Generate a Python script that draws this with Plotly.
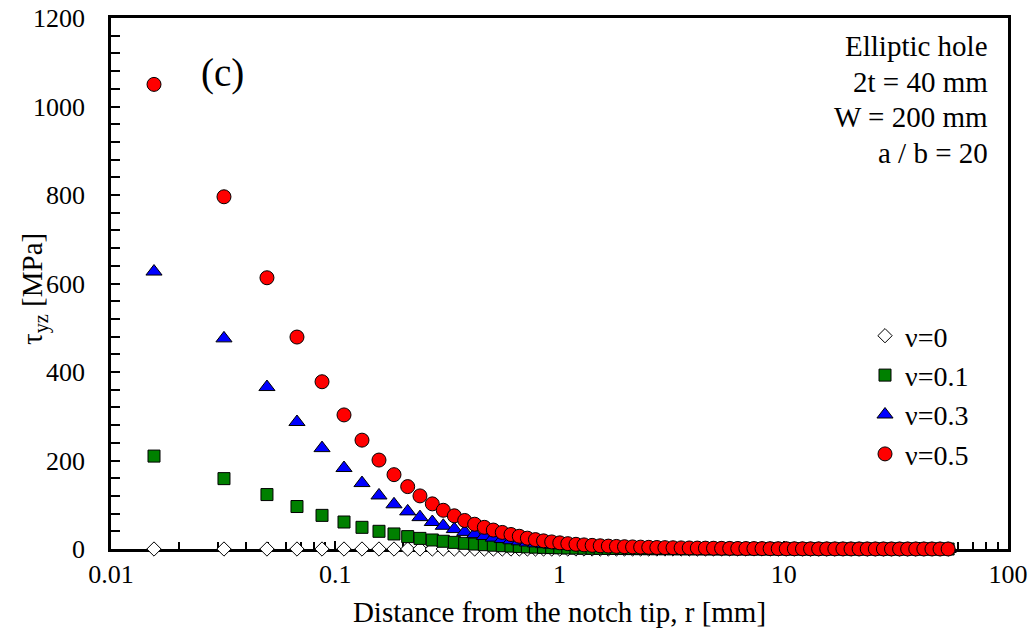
import plotly.graph_objects as go

# Distance from the notch tip r [mm]
r_mm = [0.01555, 0.0319, 0.0496, 0.0675, 0.0873, 0.1094, 0.1316, 0.1567, 0.1828, 0.2104,
        0.2387, 0.2709, 0.3032, 0.3396, 0.3778, 0.4185, 0.4621, 0.5068, 0.5557, 0.6076,
        0.6617, 0.719, 0.781, 0.849, 0.923, 1.003, 1.089, 1.184, 1.286, 1.398,
        1.519, 1.651, 1.794, 1.949, 2.118, 2.301, 2.500, 2.717, 2.952, 3.208,
        3.486, 3.788, 4.117, 4.473, 4.861, 5.282, 5.740, 6.237, 6.777, 7.362,
        8.000, 8.694, 9.447, 10.26, 11.15, 12.12, 13.17, 14.31, 15.55, 16.90,
        18.36, 19.95, 21.68, 23.56, 25.60, 27.82, 30.23, 32.85, 35.69, 38.78,
        42.14, 45.80, 49.77, 54.07]

# tau_yz [MPa] for each Poisson ratio
tau_nu05 = [1050, 796, 613, 479, 378, 303, 246, 201, 168, 141,
            120, 102, 87.5, 75, 64.5, 56, 49, 42.8, 37.5, 32.8,
            28.8, 24.5, 21.2, 18.4, 16.0, 13.9, 12.1, 10.6, 9.3, 8.2,
            7.3, 6.5, 5.8, 5.2, 4.7, 4.2, 3.8, 3.4, 3.1, 2.8,
            2.5, 2.3, 2.1, 1.9, 1.7, 1.5, 1.35, 1.2, 1.05, 0.95,
            0.85, 0.75, 0.65, 0.57, 0.5, 0.44, 0.38, 0.33, 0.29, 0.25,
            0.22, 0.19, 0.17, 0.15, 0.13, 0.12, 0.11, 0.10, 0.09, 0.08,
            0.07, 0.06, 0.05, 0.05]

tau_nu03 = [627, 476, 366, 287, 228, 183, 149, 121, 101, 85,
            72, 61, 52.5, 45, 38.7, 33.6, 29.4, 25.7, 22.5, 19.7,
            17.3, 14.7, 12.7, 11.0, 9.6, 8.3, 7.3, 6.4, 5.6, 4.9,
            4.4, 3.9, 3.5, 3.1, 2.8, 2.5, 2.3, 2.0, 1.9, 1.7,
            1.5, 1.4, 1.3, 1.1, 1.0, 0.9, 0.81, 0.72, 0.63, 0.57,
            0.51, 0.45, 0.39, 0.34, 0.3, 0.26, 0.23, 0.2, 0.17, 0.15,
            0.13, 0.11, 0.1, 0.09, 0.08, 0.07, 0.07, 0.06, 0.05, 0.05,
            0.04, 0.04, 0.03, 0.03]

tau_nu01 = [210, 159, 123, 96, 76, 61, 49, 40, 34, 28,
            24, 20.4, 17.5, 15, 12.9, 11.2, 9.8, 8.6, 7.5, 6.6,
            5.8, 4.9, 4.2, 3.7, 3.2, 2.8, 2.4, 2.1, 1.9, 1.6,
            1.5, 1.3, 1.2, 1.0, 0.94, 0.84, 0.76, 0.68, 0.62, 0.56,
            0.5, 0.46, 0.42, 0.38, 0.34, 0.3, 0.27, 0.24, 0.21, 0.19,
            0.17, 0.15, 0.13, 0.11, 0.1, 0.09, 0.08, 0.07, 0.06, 0.05,
            0.04, 0.04, 0.03, 0.03, 0.03, 0.02, 0.02, 0.02, 0.02, 0.02,
            0.01, 0.01, 0.01, 0.01]

tau_nu0 = [0.0] * len(r_mm)

series_names = ["\u03bd=0", "\u03bd=0.1", "\u03bd=0.3", "\u03bd=0.5"]
x_tick_vals = [0.01, 0.1, 1, 10, 100]
x_tick_text = ["0.01", "0.1", "1", "10", "100"]
info_lines = ["Elliptic hole", "2t = 40 mm", "W = 200 mm", "a / b = 20"]

FONT = "Liberation Serif, Times New Roman, serif"

# plot area in pixels
L, R, T, B = 111, 1008, 18, 549


def px(xp):
    return (xp - L) / (R - L)


def py(yp):
    return (B - yp) / (B - T)


fig = go.Figure()

styles = [
    dict(symbol="diamond", color="white", size=11),
    dict(symbol="square", color="#008000", size=12),
    dict(symbol="triangle-up", color="#0000FF", size=14),
    dict(symbol="circle", color="#FF0000", size=14),
]
for name, ys, st in zip(series_names, [tau_nu0, tau_nu01, tau_nu03, tau_nu05], styles):
    fig.add_trace(go.Scatter(
        x=r_mm, y=ys, mode="markers", name=name, cliponaxis=False,
        marker=dict(symbol=st["symbol"], color=st["color"], size=st["size"],
                    line=dict(color="black", width=1)),
    ))

fig.update_layout(
    width=1034, height=639,
    margin=dict(l=L, r=1034 - R, t=T, b=639 - B, autoexpand=False),
    paper_bgcolor="white", plot_bgcolor="white",
    font=dict(family=FONT, size=26, color="black"),
    showlegend=True,
    legend=dict(x=px(865), y=py(311), xanchor="left", yanchor="top",
                bgcolor="rgba(0,0,0,0)", font=dict(family=FONT, size=28, color="black"),
                traceorder="normal", tracegroupgap=0),
)

fig.update_xaxes(
    type="log", range=[-2, 2], automargin=False,
    tickmode="array", tickvals=x_tick_vals, ticktext=x_tick_text,
    ticks="inside", ticklen=8, tickwidth=2, tickcolor="black",
    showline=True, linecolor="black", linewidth=2.5, mirror=True,
    showgrid=False, zeroline=False, layer="below traces",
    tickfont=dict(family=FONT, size=26, color="black"),
    ticklabelstandoff=0,
    minor=dict(ticks="inside", ticklen=7, tickwidth=2, tickcolor="black", dtick="D1", showgrid=False),
    title=dict(text="Distance from the notch tip, r [mm]",
               font=dict(family=FONT, size=29, color="black"), standoff=14),
)

fig.update_yaxes(
    range=[0, 1200], dtick=200, tick0=0, automargin=False,
    ticks="inside", ticklen=9, tickwidth=2, tickcolor="black",
    showline=True, linecolor="black", linewidth=2.5, mirror=True,
    showgrid=False, zeroline=False, layer="below traces",
    tickfont=dict(family=FONT, size=26, color="black"),
    ticklabelstandoff=18,
    minor=dict(ticks="inside", ticklen=9, tickwidth=2, tickcolor="black", dtick=40, showgrid=False),
)

# y-axis title
fig.add_annotation(
    xref="paper", yref="paper", x=px(34), y=py(289),
    text="\u03c4<sub>yz</sub> [MPa]", textangle=-90, showarrow=False,
    xanchor="center", yanchor="middle",
    font=dict(family=FONT, size=29, color="black"),
)

fig.add_annotation(
    xref="paper", yref="paper", x=px(222), y=py(73),
    text="(c)", showarrow=False, xanchor="center", yanchor="middle",
    font=dict(family=FONT, size=39, color="black"),
)

for i, line in enumerate(info_lines):
    fig.add_annotation(
        xref="paper", yref="paper", x=px(990), y=py(46 + 35.7 * i),
        text=line, showarrow=False, xanchor="right", yanchor="middle", align="right",
        font=dict(family=FONT, size=29, color="black"),
    )

fig.write_html("out.html")
